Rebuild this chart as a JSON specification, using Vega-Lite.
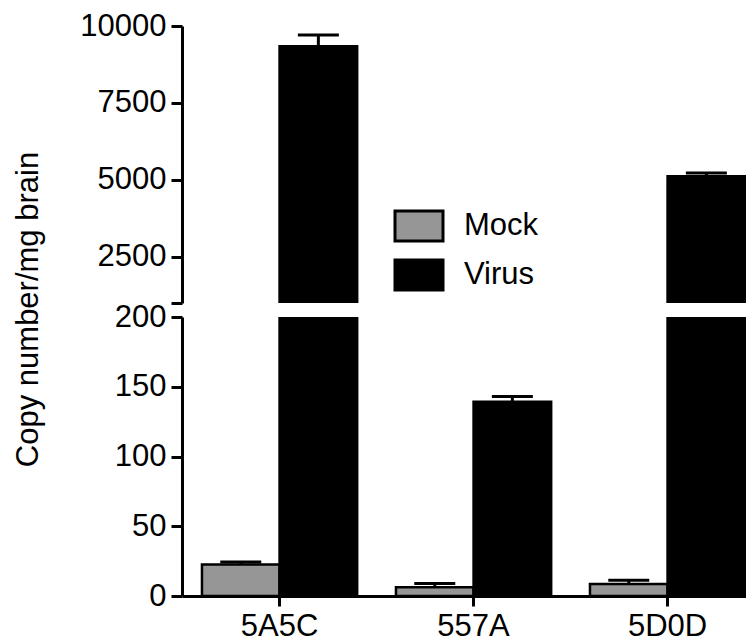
{
  "$schema": "https://vega.github.io/schema/vega-lite/v6.json",
  "background": "white",
  "padding": {"left": 12, "top": 10, "right": 0, "bottom": 0},
  "autosize": {"type": "pad"},
  "bounds": "flush",
  "spacing": 14,
  "config": {
    "font": "Liberation Sans",
    "view": {"stroke": null},
    "axis": {
      "labelFont": "Liberation Sans",
      "labelFontSize": 31,
      "labelColor": "black",
      "titleFont": "Liberation Sans",
      "titleFontSize": 31,
      "titleFontWeight": "normal",
      "titleColor": "black",
      "domainColor": "black",
      "domainWidth": 3,
      "tickColor": "black",
      "tickWidth": 3,
      "grid": false
    },
    "legend": {"labelFont": "Liberation Sans"}
  },
  "datasets": {
    "vals": [
      {"strain": "5A5C", "group": "Mock", "mean": 22.5, "upper": 24.4},
      {"strain": "5A5C", "group": "Virus", "mean": 9340, "upper": 9710},
      {"strain": "557A", "group": "Mock", "mean": 6.2, "upper": 9},
      {"strain": "557A", "group": "Virus", "mean": 139.3, "upper": 143},
      {"strain": "5D0D", "group": "Mock", "mean": 8.6, "upper": 11.3},
      {"strain": "5D0D", "group": "Virus", "mean": 5120, "upper": 5220}
    ]
  },
  "resolve": {"legend": {"fill": "independent"}},
  "vconcat": [
    {
      "width": 564,
      "height": 277,
      "data": {"name": "vals"},
      "encoding": {
        "x": {"field": "strain", "type": "nominal", "sort": ["5A5C", "557A", "5D0D"],
              "scale": {"paddingInner": 0.2, "paddingOuter": 0.0536, "align": 0.96}, "axis": null},
        "xOffset": {"field": "group", "type": "nominal", "sort": ["Mock", "Virus"], "scale": {"paddingInner": 0, "paddingOuter": 0}}
      },
      "layer": [
        {
          "mark": {"type": "bar", "clip": true, "stroke": "black", "strokeWidth": 2.5},
          "encoding": {
            "y": {"field": "mean", "type": "quantitative",
                  "scale": {"domain": [1000, 10000], "zero": false, "nice": false},
                  "axis": {"title": null, "values": [1000, 2500, 5000, 7500, 10000], "format": "d",
                           "labelExpr": "datum.value == 1000 ? '' : datum.label",
                           "tickSize": 11, "labelPadding": 5}},
            "fill": {"field": "group", "type": "nominal", "sort": ["Mock", "Virus"],
                     "scale": {"domain": ["Mock", "Virus"], "range": ["#969696", "#000000"]},
                     "legend": {"title": null, "orient": "none", "legendX": 213, "legendY": 176,
                                "symbolType": "M-1.0667,-0.6667H1.0667V0.6667H-1.0667Z",
                                "symbolSize": 2025, "symbolStrokeColor": "black", "symbolStrokeWidth": 3,
                                "labelFontSize": 31, "labelColor": "black", "labelOffset": 21,
                                "rowPadding": 3, "padding": 0}}
          }
        },
        {
          "mark": {"type": "rule", "clip": true, "strokeWidth": 3, "color": "black"},
          "encoding": {"y": {"field": "mean", "type": "quantitative"}, "y2": {"field": "upper"}}
        },
        {
          "mark": {"type": "tick", "clip": true, "thickness": 3, "size": 41, "color": "black", "opacity": 1},
          "encoding": {"y": {"field": "upper", "type": "quantitative"}}
        }
      ]
    },
    {
      "width": 564,
      "height": 279,
      "data": {"name": "vals"},
      "encoding": {
        "x": {"field": "strain", "type": "nominal", "sort": ["5A5C", "557A", "5D0D"],
              "scale": {"paddingInner": 0.2, "paddingOuter": 0.0536, "align": 0.96},
              "axis": {"title": null, "labelAngle": 0, "tickSize": 10, "labelPadding": 5}},
        "xOffset": {"field": "group", "type": "nominal", "sort": ["Mock", "Virus"], "scale": {"paddingInner": 0, "paddingOuter": 0}}
      },
      "layer": [
        {
          "mark": {"type": "bar", "clip": true, "stroke": "black", "strokeWidth": 2.5},
          "encoding": {
            "y": {"field": "mean", "type": "quantitative",
                  "scale": {"domain": [0, 200], "nice": false},
                  "axis": {"title": "Copy number/mg brain", "values": [0, 50, 100, 150, 200],
                           "tickSize": 11, "labelPadding": 5,
                           "titleAngle": 270, "titleAlign": "center", "titleBaseline": "alphabetic",
                           "titleX": -144.5, "titleY": -8}},
            "fill": {"field": "group", "type": "nominal", "sort": ["Mock", "Virus"],
                     "scale": {"domain": ["Mock", "Virus"], "range": ["#969696", "#000000"]},
                     "legend": null}
          }
        },
        {
          "mark": {"type": "rule", "clip": true, "strokeWidth": 3, "color": "black"},
          "encoding": {"y": {"field": "mean", "type": "quantitative"}, "y2": {"field": "upper"}}
        },
        {
          "mark": {"type": "tick", "clip": true, "thickness": 3, "size": 41, "color": "black", "opacity": 1},
          "encoding": {"y": {"field": "upper", "type": "quantitative"}}
        }
      ]
    }
  ]
}
